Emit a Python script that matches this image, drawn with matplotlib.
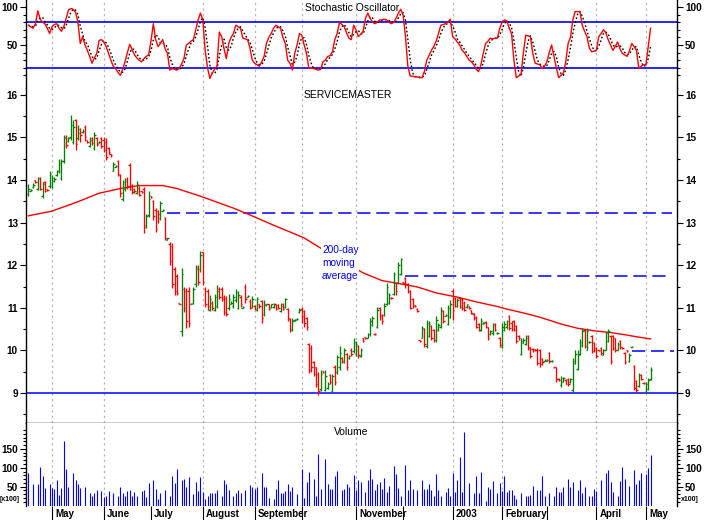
"""
ServiceMaster daily bars with 200-day MA, stochastic oscillator and volume.
"""
import matplotlib
matplotlib.use('Agg')
import matplotlib.pyplot as plt
import matplotlib.ticker as mticker
import numpy as np
import pandas as pd

# 0. Data
holidays = ['2002-05-27', '2002-07-04', '2002-09-02', '2002-11-28', '2002-12-25',
            '2003-01-01', '2003-01-20', '2003-02-17', '2003-04-18']
dates = pd.bdate_range('2002-04-17', '2003-05-05', freq='C', holidays=holidays)

opens = [
    13.68, 13.75, 13.83, 13.99, 13.80, 14.05, 13.62, 13.95, 13.78, 13.85,
    13.86, 13.97, 14.12, 14.20, 14.05, 14.45, 15.00, 14.92, 15.00, 14.90,
    15.40, 14.98, 15.20, 15.12, 15.25, 14.94, 14.80, 14.98, 14.75, 14.98,
    14.88, 14.98, 14.95, 14.90, 14.75, 14.61, 14.22, 14.31, 14.45, 14.12,
    13.55, 13.80, 14.02, 14.35, 13.88, 13.80, 13.70, 13.82, 13.74, 13.80,
    12.90, 13.18, 13.62, 13.50, 13.30, 13.28, 13.10, 13.28, 13.10, 12.60,
    12.50, 12.45, 11.90, 11.75, 11.12, 10.45, 11.45, 11.40, 11.40, 11.08,
    11.12, 11.55, 11.95, 11.90, 12.30, 11.45, 11.40, 10.95, 11.12, 10.95,
    11.05, 11.45, 11.45, 11.25, 11.22, 11.00, 11.10, 11.05, 11.18, 11.00,
    11.25, 11.00, 11.50, 11.26, 11.15, 11.02, 11.05, 10.95, 11.08, 11.15,
    10.85, 11.06, 11.08, 11.02, 11.02, 11.08, 11.07, 10.92, 11.10, 11.02,
    10.98, 10.74, 10.48, 10.71, 10.73, 10.90, 10.98, 10.92, 10.75, 10.15,
    10.05, 9.72, 9.60, 9.45, 9.10, 9.52, 9.08, 9.12, 9.42, 9.05,
    9.60, 9.50, 9.60, 9.82, 9.72, 9.92, 9.82, 10.02, 9.98, 9.92,
    10.10, 9.88, 10.28, 10.31, 10.30, 10.38, 10.60, 10.39, 10.55, 11.00,
    10.82, 10.82, 11.10, 11.12, 11.24, 11.32, 11.58, 11.60, 11.80, 11.60,
    11.70, 11.55, 11.40, 11.20, 11.06, 10.98, 10.24, 10.30, 10.50, 10.10,
    10.35, 10.58, 10.48, 10.25, 10.48, 10.55, 10.92, 10.81, 10.62, 10.78,
    11.40, 11.24, 11.04, 11.24, 11.20, 11.12, 11.02, 11.04, 10.94, 10.86,
    10.78, 10.62, 10.48, 10.63, 10.66, 10.54, 10.38, 10.40, 10.62, 10.40,
    10.30, 10.08, 10.48, 10.54, 10.80, 10.65, 10.68, 10.58, 10.34, 9.92,
    10.18, 10.15, 10.34, 10.07, 10.04, 10.03, 10.02, 10.00, 9.80, 9.76,
    9.75, 9.95, 9.74, 9.61, 9.60, 9.34, 9.18, 9.27, 9.30, 9.33,
    9.25, 9.06, 9.70, 9.56, 9.92, 10.12, 10.48, 10.02, 10.19, 10.34,
    10.18, 10.06, 10.01, 10.05, 9.90, 10.02, 10.22, 10.34, 10.34, 10.28,
    10.02, 10.23, 10.07, 9.95, 10.01, 9.75, 10.08, 9.64, 9.28, 9.17,
    9.42, 9.24, 9.02, 9.09, 9.32,
]
highs = [
    13.90, 13.80, 13.92, 14.00, 14.08, 14.08, 13.96, 13.97, 13.78, 14.22,
    14.12, 14.08, 14.24, 14.50, 14.50, 15.05, 15.05, 15.00, 15.52, 15.40,
    15.43, 15.30, 15.22, 15.20, 15.28, 14.95, 15.00, 15.00, 15.13, 15.00,
    14.92, 15.00, 15.00, 14.98, 14.78, 14.62, 14.42, 14.35, 14.47, 14.15,
    14.00, 14.05, 14.06, 14.40, 13.90, 13.82, 13.98, 13.85, 13.74, 13.84,
    13.20, 13.74, 13.62, 13.53, 13.35, 13.30, 13.50, 13.32, 13.14, 12.64,
    12.55, 12.52, 11.96, 11.80, 11.12, 11.93, 11.50, 11.46, 11.48, 11.12,
    11.50, 12.00, 12.00, 12.33, 12.32, 11.50, 11.45, 11.30, 11.15, 11.33,
    11.53, 11.48, 11.50, 11.30, 11.28, 11.32, 11.15, 11.33, 11.44, 11.40,
    11.30, 11.05, 11.55, 11.30, 11.20, 11.28, 11.06, 11.26, 11.10, 11.18,
    11.18, 11.10, 11.10, 11.10, 11.12, 11.10, 11.09, 11.12, 11.12, 11.23,
    11.00, 10.76, 10.75, 10.74, 10.76, 11.00, 11.02, 10.95, 10.78, 10.17,
    10.12, 9.75, 9.62, 9.50, 9.55, 9.52, 9.55, 9.25, 9.45, 9.45,
    9.65, 9.90, 10.10, 9.85, 10.06, 9.95, 9.90, 10.05, 10.28, 10.22,
    10.12, 10.05, 10.30, 10.32, 10.40, 10.75, 10.80, 10.40, 11.03, 11.03,
    10.85, 11.12, 11.58, 11.35, 11.25, 11.85, 11.60, 12.08, 12.17, 11.60,
    11.73, 11.58, 11.42, 11.23, 11.06, 11.00, 10.24, 10.57, 10.52, 10.71,
    10.70, 10.60, 10.50, 10.80, 10.64, 11.03, 10.95, 10.85, 11.07, 11.18,
    11.44, 11.26, 11.22, 11.26, 11.22, 11.15, 11.10, 11.05, 10.95, 10.88,
    10.80, 10.64, 10.76, 10.66, 10.68, 10.56, 10.49, 10.64, 10.64, 10.43,
    10.32, 10.64, 10.68, 10.71, 10.83, 10.68, 10.71, 10.60, 10.36, 10.29,
    10.29, 10.36, 10.36, 10.09, 10.05, 10.04, 10.05, 10.03, 9.82, 9.79,
    9.79, 9.97, 9.77, 9.62, 9.62, 9.35, 9.40, 9.38, 9.32, 9.35,
    9.35, 9.82, 10.00, 10.00, 10.27, 10.52, 10.50, 10.52, 10.22, 10.36,
    10.20, 10.09, 10.02, 10.07, 10.03, 10.44, 10.50, 10.36, 10.36, 10.30,
    10.20, 10.25, 10.08, 9.97, 10.02, 9.94, 10.11, 9.66, 9.30, 9.48,
    9.44, 9.25, 9.27, 9.35, 9.62,
]
lows = [
    13.63, 13.74, 13.82, 13.94, 13.77, 13.77, 13.58, 13.73, 13.75, 13.82,
    13.82, 13.95, 14.10, 14.17, 14.00, 14.40, 14.75, 14.90, 14.95, 14.85,
    14.70, 14.95, 14.90, 15.10, 14.92, 14.88, 14.78, 14.82, 14.70, 14.80,
    14.88, 14.75, 14.66, 14.47, 14.62, 14.55, 14.20, 14.30, 14.10, 13.60,
    13.50, 13.75, 13.80, 13.77, 13.68, 13.70, 13.68, 13.62, 13.70, 12.75,
    12.87, 13.13, 13.58, 13.06, 12.79, 13.00, 13.06, 13.28, 12.60, 12.60,
    12.00, 11.46, 11.30, 11.30, 11.08, 10.35, 10.90, 10.52, 10.55, 11.08,
    11.10, 11.50, 11.53, 11.85, 11.53, 11.03, 10.95, 10.93, 10.95, 10.92,
    11.00, 11.20, 11.15, 10.82, 10.80, 10.95, 11.10, 11.00, 11.13, 10.97,
    11.03, 11.00, 11.12, 11.25, 10.98, 10.99, 10.95, 10.92, 11.00, 10.64,
    10.81, 11.05, 10.96, 11.00, 11.00, 10.96, 10.97, 10.90, 10.95, 11.00,
    10.70, 10.43, 10.45, 10.70, 10.72, 10.88, 10.65, 10.56, 10.48, 9.47,
    9.50, 9.40, 9.15, 8.95, 9.05, 9.48, 9.05, 9.10, 9.20, 9.02,
    9.18, 9.45, 9.55, 9.70, 9.70, 9.55, 9.80, 9.88, 9.94, 9.88,
    9.82, 9.85, 10.20, 10.26, 10.28, 10.35, 10.58, 10.36, 10.52, 10.72,
    10.62, 10.80, 11.07, 11.10, 11.20, 11.30, 11.30, 11.58, 11.77, 11.55,
    11.46, 11.35, 10.97, 11.00, 11.02, 10.90, 10.20, 10.29, 10.09, 10.06,
    10.32, 10.25, 10.20, 10.20, 10.45, 10.52, 10.64, 10.81, 10.60, 10.75,
    10.71, 11.02, 11.02, 10.99, 10.95, 10.92, 11.00, 10.97, 10.85, 10.71,
    10.52, 10.45, 10.45, 10.62, 10.52, 10.24, 10.37, 10.37, 10.45, 10.39,
    10.09, 10.05, 10.45, 10.51, 10.48, 10.45, 10.45, 10.17, 10.24, 9.89,
    10.17, 10.13, 10.00, 9.82, 9.97, 9.98, 9.66, 9.62, 9.66, 9.75,
    9.74, 9.71, 9.73, 9.58, 9.27, 9.28, 9.15, 9.25, 9.20, 9.16,
    9.23, 9.03, 9.68, 9.54, 9.89, 10.09, 10.05, 10.00, 10.18, 9.93,
    9.96, 9.82, 9.98, 9.90, 9.89, 10.00, 10.20, 9.68, 10.00, 9.96,
    10.00, 10.04, 10.04, 9.68, 9.96, 9.73, 10.07, 9.07, 9.03, 9.15,
    9.30, 9.21, 9.00, 9.07, 9.30,
]
closes = [
    13.80, 13.77, 13.88, 13.96, 14.05, 13.80, 13.90, 13.75, 13.76, 14.15,
    14.05, 14.02, 14.20, 14.40, 14.45, 14.98, 14.83, 14.98, 15.30, 15.25,
    14.85, 15.10, 15.05, 15.15, 15.00, 14.90, 14.95, 14.88, 15.05, 14.85,
    14.90, 14.80, 14.70, 14.55, 14.65, 14.58, 14.38, 14.33, 14.15, 13.70,
    13.95, 13.98, 13.85, 13.80, 13.72, 13.75, 13.90, 13.65, 13.72, 12.95,
    13.15, 13.55, 13.60, 13.15, 12.85, 13.20, 13.45, 13.30, 12.65, 12.63,
    12.10, 11.55, 11.40, 11.35, 11.10, 11.80, 11.00, 10.70, 10.65, 11.10,
    11.45, 11.90, 11.60, 12.25, 11.60, 11.10, 11.05, 11.20, 11.00, 11.25,
    11.40, 11.25, 11.20, 10.90, 10.85, 11.20, 11.12, 11.25, 11.38, 11.30,
    11.10, 11.02, 11.20, 11.28, 11.00, 11.20, 10.98, 11.20, 11.05, 10.75,
    11.10, 11.08, 10.98, 11.08, 11.10, 10.98, 11.00, 11.05, 10.98, 11.20,
    10.75, 10.50, 10.70, 10.72, 10.74, 10.96, 10.80, 10.65, 10.55, 9.55,
    9.60, 9.45, 9.20, 9.05, 9.45, 9.50, 9.40, 9.20, 9.25, 9.40,
    9.25, 9.85, 9.95, 9.75, 10.00, 9.60, 9.88, 9.92, 10.20, 10.15,
    9.90, 10.00, 10.22, 10.28, 10.38, 10.70, 10.75, 10.38, 10.95, 10.80,
    10.70, 11.05, 11.50, 11.30, 11.22, 11.80, 11.40, 12.00, 12.15, 11.58,
    11.55, 11.40, 11.00, 11.05, 11.04, 10.92, 10.22, 10.52, 10.15, 10.65,
    10.62, 10.30, 10.25, 10.72, 10.60, 10.95, 10.70, 10.83, 11.00, 11.10,
    10.95, 11.05, 11.18, 11.02, 11.00, 10.95, 11.08, 11.00, 10.88, 10.75,
    10.55, 10.48, 10.70, 10.64, 10.55, 10.30, 10.45, 10.60, 10.48, 10.41,
    10.12, 10.55, 10.62, 10.68, 10.52, 10.50, 10.48, 10.22, 10.28, 10.22,
    10.25, 10.30, 10.05, 9.88, 10.00, 10.00, 9.70, 9.68, 9.72, 9.78,
    9.77, 9.75, 9.76, 9.60, 9.32, 9.30, 9.35, 9.36, 9.22, 9.20,
    9.32, 9.75, 9.92, 9.90, 10.20, 10.45, 10.10, 10.45, 10.20, 9.98,
    10.00, 9.88, 10.00, 9.95, 10.00, 10.40, 10.45, 9.75, 10.05, 10.00,
    10.15, 10.08, 10.05, 9.72, 9.98, 9.90, 10.09, 9.12, 9.08, 9.42,
    9.32, 9.23, 9.22, 9.30, 9.55,
]
volumes = [  # hundreds of shares
    86, 0, 57, 0, 57, 102, 78, 47, 0, 57,
    47, 44, 67, 28, 47, 170, 96, 49, 0, 86,
    67, 57, 46, 0, 49, 0, 33, 26, 33, 40,
    0, 38, 22, 24, 38, 0, 33, 0, 24, 50,
    33, 26, 38, 40, 24, 36, 24, 0, 38, 40,
    22, 59, 0, 67, 45, 17, 33, 0, 40, 0,
    24, 78, 59, 98, 0, 67, 71, 49, 75, 0,
    30, 61, 38, 75, 35, 18, 26, 34, 34, 34,
    41, 0, 24, 67, 57, 41, 0, 26, 34, 41,
    34, 0, 40, 0, 54, 49, 44, 50, 0, 86,
    49, 50, 19, 0, 17, 43, 68, 33, 33, 38,
    57, 38, 50, 0, 31, 0, 98, 20, 62, 89,
    0, 71, 26, 137, 44, 0, 123, 57, 44, 44,
    78, 91, 0, 41, 45, 57, 49, 0, 80, 40,
    67, 63, 0, 35, 67, 98, 71, 40, 57, 61,
    44, 74, 37, 53, 0, 105, 84, 47, 24, 0,
    107, 41, 68, 45, 0, 40, 0, 68, 44, 43,
    58, 40, 24, 84, 40, 24, 0, 35, 47, 24,
    86, 36, 67, 128, 37, 194, 0, 59, 0, 33,
    77, 33, 88, 0, 11, 49, 45, 64, 0, 33,
    59, 38, 78, 37, 40, 40, 27, 18, 0, 34,
    0, 26, 26, 27, 53, 0, 40, 40, 78, 26,
    0, 34, 0, 24, 50, 35, 37, 50, 0, 71,
    50, 62, 0, 40, 67, 33, 50, 0, 26, 25,
    43, 38, 0, 67, 0, 86, 93, 61, 35, 0,
    24, 64, 102, 71, 0, 53, 0, 94, 57, 67,
    86, 0, 84, 99, 133,
]
stoch_k = [
    76, 74, 72, 78, 95, 84, 80, 78, 72, 65,
    74, 77, 78, 72, 68, 74, 85, 96, 98, 97,
    93, 80, 52, 61, 50, 43, 35, 26, 33, 39,
    56, 57, 54, 48, 39, 30, 22, 19, 14, 10,
    18, 28, 40, 51, 44, 37, 33, 30, 28, 32,
    35, 37, 55, 78, 57, 48, 52, 57, 45, 39,
    17, 19, 18, 17, 19, 25, 32, 50, 52, 55,
    57, 70, 83, 92, 83, 43, 20, 6, 13, 18,
    22, 67, 61, 45, 32, 52, 60, 65, 76, 74,
    72, 59, 58, 57, 46, 30, 26, 24, 22, 28,
    35, 52, 60, 65, 72, 76, 74, 72, 60, 52,
    30, 26, 17, 39, 50, 65, 63, 50, 39, 19,
    20, 19, 18, 17, 18, 28, 30, 35, 36, 41,
    57, 65, 80, 77, 74, 66, 59, 57, 76, 70,
    61, 64, 68, 85, 92, 85, 80, 78, 80, 83,
    83, 84, 83, 80, 78, 80, 85, 92, 97, 89,
    61, 22, 9, 9, 8, 8, 7, 7, 15, 30,
    36, 43, 48, 55, 65, 76, 77, 78, 80, 84,
    61, 58, 54, 50, 43, 40, 35, 30, 28, 24,
    18, 15, 24, 39, 52, 55, 59, 58, 59, 59,
    72, 80, 83, 82, 72, 65, 30, 7, 9, 11,
    39, 63, 62, 61, 39, 26, 25, 24, 19, 22,
    28, 40, 50, 35, 20, 7, 10, 13, 28, 52,
    60, 83, 94, 94, 94, 76, 68, 61, 46, 41,
    42, 43, 61, 65, 70, 66, 57, 50, 43, 48,
    54, 45, 39, 37, 35, 42, 52, 48, 43, 19,
    22, 24, 24, 48, 72,
]
# 200-day moving average, read at these bar numbers
ma_bar = [0, 10, 21, 30, 39, 47, 57, 63, 73, 80, 87, 94, 104, 111, 117, 124, 142,
          150, 156, 165, 173, 182, 190, 199, 203, 210, 217, 226, 233, 240, 247,
          254, 258, 264]
ma_value = [13.16, 13.27, 13.49, 13.69, 13.80, 13.87, 13.87, 13.80, 13.62, 13.48,
            13.34, 13.18, 12.94, 12.78, 12.64, 12.40, 11.82, 11.64, 11.58, 11.49,
            11.35, 11.25, 11.14, 11.03, 10.97, 10.88, 10.78, 10.62, 10.52, 10.46,
            10.42, 10.36, 10.32, 10.27]
# dashed resistance levels: price, first bar, last bar
level_price = [13.22, 11.75, 9.99]
level_start = [59, 160, 256]
level_end = [273, 272, 274]
support_price = 9.0
month_labels = ['May', 'June', 'July', 'August', 'September', '', 'November', '',
                '2003', 'February', '', 'April', 'May']
month_grid = [True, True, False, True, True, True, True, False, True, True, False,
              True, True]

# 1. Prepare
n = len(closes)
dates = dates[:n]
x = np.arange(n)
opens, highs, lows, closes = map(np.asarray, (opens, highs, lows, closes))
bar_colors = np.where(closes >= opens, '#008000', '#ff0000')
stoch_d = pd.Series(stoch_k, dtype=float).rolling(3, min_periods=1).mean()
month_pos = [i for i in range(1, n) if dates[i].month != dates[i - 1].month]
grid_pos = [p for p, g in zip(month_pos, month_grid) if g]

# 2. Plot
plt.rcParams.update({
    'font.family': ['Liberation Sans', 'DejaVu Sans'],
    'axes.linewidth': 1.0,
    'lines.scale_dashes': False,
})
RED, GREEN, BLUE = '#ff0000', '#008000', '#0000ff'
fig = plt.figure(figsize=(7.04, 5.2), dpi=100)
left, width = 26 / 704, 651 / 704
ax_st = fig.add_axes([left, 432 / 520, width, 88 / 520])
ax_pr = fig.add_axes([left, 97 / 520, width, 335 / 520])
ax_vo = fig.add_axes([left, 14.5 / 520, width, 82.5 / 520])

for ax in (ax_st, ax_pr, ax_vo):
    ax.set_xlim(-1.02, 275.2)
    for p in grid_pos:
        ax.axvline(p, color='#b4b4b4', lw=0.9, ls=(0, (1.6, 2.4)), zorder=0)
    ax.spines['top'].set_visible(False)
    ax.tick_params(axis='x', bottom=False, labelbottom=False)
    ax.tick_params(axis='y', which='both', direction='out', left=True, right=True,
                   labelleft=True, labelright=True, labelsize=7.2, pad=1.5, width=0.8)
    ax.tick_params(axis='y', which='major', length=4.3)
    ax.tick_params(axis='y', which='minor', length=2.0)
ax_st.spines['bottom'].set_visible(False)
ax_vo.spines['bottom'].set_visible(False)

# Stochastic oscillator
ax_st.set_ylim(-6.6, 109.2)
ax_st.axhline(80, color=BLUE, lw=1.2)
ax_st.axhline(20, color=BLUE, lw=1.2)
ax_st.plot(x, stoch_d, color='black', lw=1.0, ls=(0, (1.2, 1.6)))
ax_st.plot(x, stoch_k, color=RED, lw=1.0)
ax_st.yaxis.set_major_locator(mticker.FixedLocator([50, 100]))
ax_st.yaxis.set_minor_locator(mticker.FixedLocator(np.arange(10, 100, 10)))
ax_st.text(0.5008, 0.909, 'Stochastic Oscillator', transform=ax_st.transAxes,
           ha='center', va='center', fontsize=7.5)

# Price bars
ax_pr.set_ylim(8.296, 16.16)
ax_pr.axhline(support_price, color=BLUE, lw=1.1)
for lv, a, b in zip(level_price, level_start, level_end):
    ax_pr.plot([a, b], [lv, lv], color=BLUE, lw=1.1, ls=(0, (9.5, 4.2)))
ax_pr.plot(ma_bar, ma_value, color=RED, lw=1.0, zorder=2)
ax_pr.vlines(x, lows, highs, colors=bar_colors, lw=0.95, zorder=3)
ax_pr.hlines(closes, x, x + 0.6, colors=bar_colors, lw=0.95, zorder=3)
ax_pr.hlines(opens, x - 0.6, x, colors=bar_colors, lw=0.95, zorder=3)
ax_pr.yaxis.set_major_locator(mticker.MultipleLocator(1))
ax_pr.yaxis.set_minor_locator(mticker.MultipleLocator(0.5))
ax_pr.yaxis.set_major_formatter(mticker.FormatStrFormatter('%d'))
ax_pr.text(0.495, 0.979, 'SERVICEMASTER', transform=ax_pr.transAxes,
           ha='center', va='center', fontsize=7.5)
ax_pr.text(124.6, 12.48, '200-day\nmoving\naverage', color=BLUE, fontsize=7.3,
           ha='left', va='top', multialignment='left', linespacing=1.4, zorder=4,
           bbox=dict(facecolor='white', edgecolor='none', pad=0.6))

# Volume
ax_vo.set_ylim(0, 218.8)
ax_vo.vlines(x, 0, volumes, colors=BLUE, lw=0.8)
ax_vo.yaxis.set_major_locator(mticker.FixedLocator([50, 100, 150]))
ax_vo.yaxis.set_minor_locator(mticker.FixedLocator(np.arange(10, 210, 10)))
ax_vo.text(0.5, 0.891, 'Volume', transform=ax_vo.transAxes,
           ha='center', va='center', fontsize=7.5)
ax_vo.text(-0.025, 0.067, '[x100]', transform=ax_vo.transAxes, ha='center',
           va='center', fontsize=5, fontweight='bold')
ax_vo.text(1.0195, 0.067, 'x100]', transform=ax_vo.transAxes, ha='center',
           va='center', fontsize=5, fontweight='bold')

# Month axis
ax_vo.set_xticks(month_pos)
ax_vo.tick_params(axis='x', bottom=True, labelbottom=False, direction='out',
                  length=10.8, width=0.8)
for p, lab in zip(month_pos, month_labels):
    ax_vo.annotate(lab, xy=(p, 0), xycoords=('data', 'axes fraction'),
                   xytext=(2.2, -6.2), textcoords='offset points',
                   ha='left', va='center', fontsize=7, fontweight='bold')

for ax in (ax_st, ax_pr, ax_vo):
    for lab in ax.get_yticklabels():
        lab.set_fontweight('bold')

fig.savefig('out.png', dpi=100)
